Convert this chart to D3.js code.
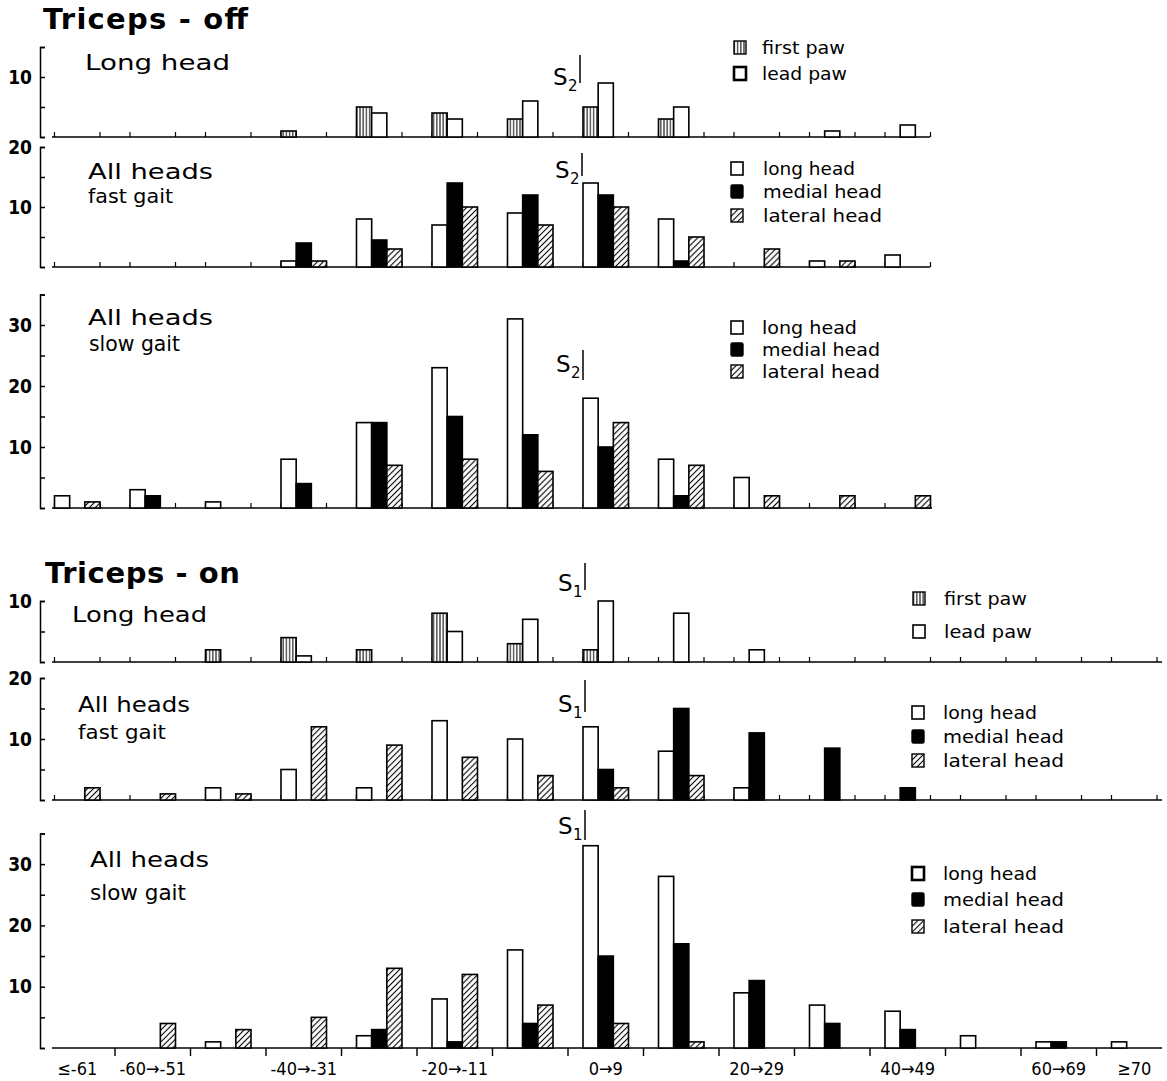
<!DOCTYPE html>
<html><head><meta charset="utf-8">
<script src="https://cdn.jsdelivr.net/npm/d3@7"></script>
<style>
body{margin:0;background:#fff;}
svg{display:block;}
</style></head><body>
<script>
// ---------- DATA ----------
const categories = ["≤-61","-60→-51","-50→-41","-40→-31","-30→-21","-20→-11","-10→-1","0→9","10→19","20→29","30→39","40→49","50→59","60→69","≥70"];
const tickLabels = ["≤-61","-60→-51","-40→-31","-20→-11","0→9","20→29","40→49","60→69","≥70"];
const pawKeys = ["first paw","lead paw"];
const headKeys = ["long head","medial head","lateral head"];

// Triceps-off (categories ≤-61 … 40→49)
const offLongFirstPaw = [0,0,0,1,5,4,3,5,3,0,0,0];
const offLongLeadPaw  = [0,0,0,0,4,3,6,9,5,0,1,2];
const offFastLong     = [0,0,0,1,8,7,9,14,8,0,1,2];
const offFastMedial   = [0,0,0,4,4.5,14,12,12,1,0,0,0];
const offFastLateral  = [0,0,0,1,3,10,7,10,5,3,1,0];
const offSlowLong     = [2,3,1,8,14,23,31,18,8,5,0,0];
const offSlowMedial   = [0,2,0,4,14,15,12,10,2,0,0,0];
const offSlowLateral  = [1,0,0,0,7,8,6,14,7,2,2,2];
// Triceps-on (all 15 categories)
const onLongFirstPaw = [0,0,2,4,2,8,3,2,0,0,0,0,0,0,0];
const onLongLeadPaw  = [0,0,0,1,0,5,7,10,8,2,0,0,0,0,0];
const onFastLong     = [0,0,2,5,2,13,10,12,8,2,0,0,0,0,0];
const onFastMedial   = [0,0,0,0,0,0,0,5,15,11,8.5,2,0,0,0];
const onFastLateral  = [2,1,1,12,9,7,4,2,4,0,0,0,0,0,0];
const onSlowLong     = [0,0,1,0,2,8,16,33,28,9,7,6,2,1,1];
const onSlowMedial   = [0,0,0,0,3,1,4,15,17,11,4,3,0,1,0];
const onSlowLateral  = [0,4,3,5,13,12,7,4,1,0,0,0,0,0,0];

// ---------- LAYOUT ----------
const W = 1167, H = 1081;
const FONT = "DejaVu Sans";
const FONTC = "DejaVu Sans Condensed";
const svg = d3.select("body").append("svg").attr("width", W).attr("height", H);
svg.append("rect").attr("width", W).attr("height", H).attr("fill", "#fff");

const defs = svg.append("defs");
const pv = defs.append("pattern").attr("id","vstripe").attr("patternUnits","userSpaceOnUse").attr("width",3.2).attr("height",6);
pv.append("rect").attr("width",3.2).attr("height",6).attr("fill","#fff");
pv.append("line").attr("x1",1.6).attr("x2",1.6).attr("y1",0).attr("y2",6).attr("stroke","#000").attr("stroke-width",1);
const pd = defs.append("pattern").attr("id","diag").attr("patternUnits","userSpaceOnUse").attr("width",4.2).attr("height",4.2).attr("patternTransform","rotate(45)");
pd.append("rect").attr("width",4.2).attr("height",4.2).attr("fill","#fff");
pd.append("line").attr("x1",2.1).attr("x2",2.1).attr("y1",0).attr("y2",4.2).attr("stroke","#000").attr("stroke-width",1.1);

const fills = {open:"#fff", solid:"#000", vstripe:"url(#vstripe)", diag:"url(#diag)"};

const x = d3.scaleBand().domain(categories)
  .range([39.5, 39.5 + categories.length * 75.5])
  .paddingInner(30/75.5).paddingOuter(15/75.5);
const slot = d3.scaleBand().domain([0,1,2]).range([0, x.bandwidth()]);
const AXX = 40;

const panels = [
  {base:137, ppu:6.0, top:15, yLabels:[10], xEnd:930, series:[offLongFirstPaw, offLongLeadPaw], styles:["vstripe","open"]},
  {base:267, ppu:6.0, top:20, yLabels:[10,20], xEnd:930, series:[offFastLong, offFastMedial, offFastLateral], styles:["open","solid","diag"]},
  {base:508, ppu:6.1, top:35, yLabels:[10,20,30], xEnd:932, series:[offSlowLong, offSlowMedial, offSlowLateral], styles:["open","solid","diag"]},
  {base:662, ppu:6.1, top:10, yLabels:[10], xEnd:1162, series:[onLongFirstPaw, onLongLeadPaw], styles:["vstripe","open"]},
  {base:800, ppu:6.1, top:20, yLabels:[10,20], xEnd:1162, series:[onFastLong, onFastMedial, onFastLateral], styles:["open","solid","diag"]},
  {base:1048, ppu:6.13, top:35, yLabels:[10,20,30], xEnd:1162, series:[onSlowLong, onSlowMedial, onSlowLateral], styles:["open","solid","diag"], bottom:true}
];

panels.forEach(p => {
  const g = svg.append("g");
  const y = d3.scaleLinear().domain([0, p.top]).range([p.base, p.base - p.top * p.ppu]);
  const nCat = p.series[0].length;
  const cats = categories.slice(0, nCat);

  g.append("line").attr("x1", 52).attr("x2", p.xEnd).attr("y1", p.base).attr("y2", p.base)
    .attr("stroke","#000").attr("stroke-width",1.5);

  if (!p.bottom) {
    cats.forEach(c => {
      [x(c), x(c) + x.bandwidth()].forEach(xx => {
        g.append("line").attr("x1", xx).attr("x2", xx).attr("y1", p.base).attr("y2", p.base - 5)
          .attr("stroke","#000").attr("stroke-width",1.2);
      });
    });
  } else {
    categories.slice(1).forEach(c => {
      const xx = x(c) - (x.step() - x.bandwidth()) / 2;
      g.append("line").attr("x1", xx).attr("x2", xx).attr("y1", p.base).attr("y2", p.base + 8)
        .attr("stroke","#000").attr("stroke-width",1.4);
    });
    const xa = d3.axisBottom(x).tickValues(tickLabels).tickSize(0).tickPadding(14);
    const gx = g.append("g").attr("transform", `translate(0,${p.base})`).call(xa);
    gx.select(".domain").remove();
    gx.attr("font-family", FONTC).attr("font-size", 18);
    gx.selectAll("text").attr("fill","#000");
  }

  const ya = d3.axisLeft(y).tickValues(d3.range(0, p.top + 0.1, 5))
    .tickSizeInner(-5).tickSizeOuter(-5).tickPadding(8)
    .tickFormat(d => p.yLabels.includes(d) ? d : "");
  const gy = g.append("g").attr("transform", `translate(${AXX},0)`).call(ya);
  gy.attr("font-family", FONTC).attr("font-size", 19).attr("font-weight", "bold");
  gy.selectAll("path,line").attr("stroke","#000").attr("stroke-width",1.5);
  gy.selectAll("text").attr("fill","#000");

  p.series.forEach((vals, si) => {
    g.selectAll(null)
      .data(vals.map((v, i) => ({c: categories[i], v})).filter(d => d.v > 0))
      .join("rect")
      .attr("x", d => x(d.c) + slot(si))
      .attr("width", slot.bandwidth())
      .attr("y", d => y(d.v))
      .attr("height", d => y(0) - y(d.v))
      .attr("fill", fills[p.styles[si]])
      .attr("stroke","#000").attr("stroke-width",1.6);
  });
});

// ---------- TEXT ----------
function txt(xp, yp, s, size, opts = {}) {
  const t = svg.append("text").attr("x", xp).attr("y", yp).text(s)
    .attr("font-family", opts.family || FONT).attr("font-size", size).attr("fill", "#000")
    .attr("font-weight", opts.weight || "normal");
  if (opts.len) t.attr("textLength", opts.len).attr("lengthAdjust", opts.adj || "spacingAndGlyphs");
  return t;
}
txt(43, 29, "Triceps - off", 29, {weight:"bold", len:205, adj:"spacing"});
txt(45, 583, "Triceps - on", 29, {weight:"bold", len:195, adj:"spacing"});

txt(85, 70, "Long  head", 22, {len:145});
txt(88, 179, "All  heads", 22, {len:125});
txt(88, 203, "fast gait", 19, {len:85});
txt(88, 325, "All  heads", 22, {len:125});
txt(89, 351, "slow  gait", 21, {len:91});
txt(72, 622, "Long  head", 22, {len:135});
txt(78, 712, "All  heads", 22, {len:112});
txt(78, 739, "fast  gait", 20, {len:88});
txt(90, 867, "All  heads", 22, {len:119});
txt(90, 900, "slow  gait", 21, {len:96});

function sMark(xs, yb, sub, lineTop, lineBot) {
  txt(xs, yb, "S", 23);
  txt(xs + 15, yb + 6, sub, 15);
  svg.append("line").attr("x1", xs + 27).attr("x2", xs + 27).attr("y1", lineTop).attr("y2", lineBot)
    .attr("stroke","#000").attr("stroke-width",1.5);
}
sMark(553, 85, "2", 55, 83);
sMark(555, 178, "2", 153, 176);
sMark(556, 372, "2", 350, 380);
sMark(558, 591, "1", 563, 590);
sMark(558, 712, "1", 680, 712);
sMark(558, 834, "1", 810, 840);

function legend(xs, tx, rows, keys, styles, len, thick) {
  rows.forEach((yb, i) => {
    const st = styles[i];
    svg.append("rect").attr("x", xs).attr("y", yb - 13).attr("width", 12).attr("height", 13)
      .attr("fill", fills[st]).attr("stroke", "#000")
      .attr("stroke-width", st === "open" ? (thick ? 2.6 : 1.6) : 1.4)
      .attr("rx", st === "solid" ? 1.5 : 0);
    txt(tx, yb, keys[i], 17, {len: len[i]});
  });
}
legend(734, 762, [54, 80], pawKeys, ["vstripe","open"], [83, 85], true);
legend(731, 763, [175, 198, 222], headKeys, ["open","solid","diag"], [92, 119, 119], false);
legend(731, 762, [334, 356, 378], headKeys, ["open","solid","diag"], [95, 118, 118], false);
legend(913, 944, [605, 638], pawKeys, ["vstripe","open"], [83, 88], false);
legend(912, 943, [719, 743, 767], headKeys, ["open","solid","diag"], [94, 121, 121], false);
legend(912, 943, [880, 906, 933], headKeys, ["open","solid","diag"], [94, 121, 121], true);
</script></body></html>
